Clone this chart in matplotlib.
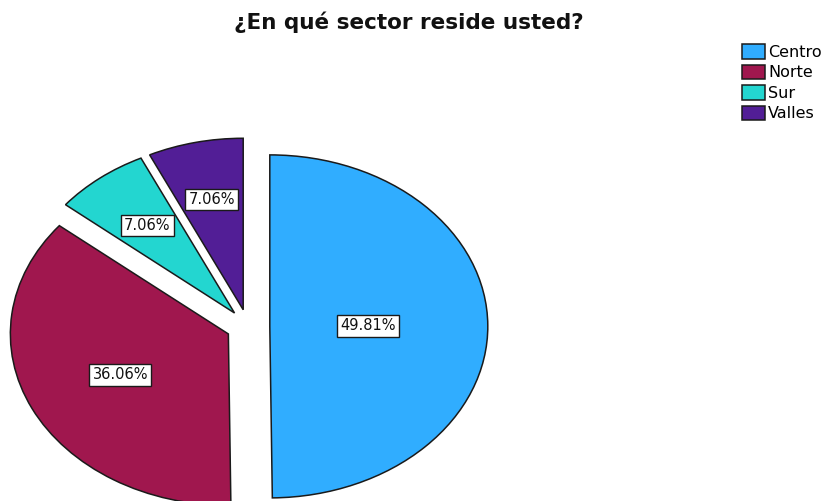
import matplotlib
matplotlib.use("Agg")
import matplotlib.pyplot as plt
import numpy as np

plt.rcParams["font.family"] = ["DejaVu Sans"]

# data
TITLE = "¿En qué sector reside usted?"
sectors = ["Centro", "Norte", "Sur", "Valles"]
percents = [49.81, 36.06, 7.06, 7.06]

COLORS = ["#30adff", "#a0174e", "#23d6d0", "#521e96"]
EDGE = "#1a1a1a"
LABEL_DIST = [0.45, 0.55, 0.65, 0.66]   # where each % box sits inside its slice

fig = plt.figure(figsize=(8.29, 5.01), dpi=100)
ax = fig.add_axes([0, 0, 1, 1])

wedges, _ = ax.pie(percents, colors=COLORS, startangle=90, counterclock=False,
                   explode=[0.1] * len(percents),
                   wedgeprops=dict(edgecolor=EDGE, linewidth=1.1))
ax.set_aspect("auto")
# pie is stretched sideways and runs off the bottom edge like the SPSS export
ax.set_xlim(-248 / 218, (829 - 248) / 218)
ax.set_ylim(-174.5 / 171.5, 326.5 / 171.5)
ax.axis("off")

for w, p, d in zip(wedges, percents, LABEL_DIST):
    mid = np.deg2rad((w.theta1 + w.theta2) / 2)
    cx, cy = w.center
    ax.text(cx + d * np.cos(mid), cy + d * np.sin(mid), f"{p:.2f}%",
            ha="center", va="center", fontsize=10.5, color="#111111",
            bbox=dict(boxstyle="square,pad=0.22", fc="white", ec=EDGE, lw=1.0))

fig.text(0.493, 0.955, TITLE, ha="center", va="center",
         fontsize=15.5, fontweight="bold", color="#111111")

leg = fig.legend(wedges, sectors, loc="upper left",
                 bbox_to_anchor=(736 / 829, 1 - 38 / 501), frameon=False,
                 fontsize=11.5, handlelength=1.4, handleheight=1.0,
                 handletextpad=0.2, labelspacing=0.3, borderaxespad=0)

fig.savefig("out.png", dpi=100)
